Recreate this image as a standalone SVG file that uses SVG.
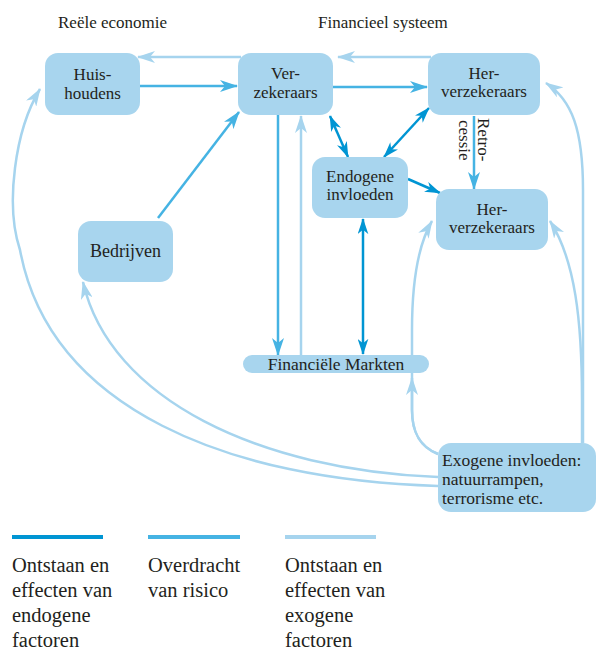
<svg xmlns="http://www.w3.org/2000/svg" width="597" height="651" viewBox="0 0 597 651">
<style>
text{font-family:"Liberation Serif","DejaVu Serif",serif;fill:#231f20}
.t{font-size:17px;text-anchor:middle}
.h{font-size:17px}
.ex{font-size:17.5px}
.lg{font-size:20.5px}
.box{fill:#a8d5ee}
.lt{fill:none;stroke:#a6d4ee;stroke-width:2.5}
.md{fill:none;stroke:#45b3e3;stroke-width:2.5}
.dk{fill:none;stroke:#0095d3;stroke-width:2.5}
</style>
<defs>
<marker id="aL" viewBox="0 0 18 12" markerWidth="18" markerHeight="12" refX="17" refY="6" orient="auto-start-reverse" markerUnits="userSpaceOnUse"><path d="M0,0 L18,6 L0,12 L5,6 z" fill="#a6d4ee"/></marker>
<marker id="aM" viewBox="0 0 18 12" markerWidth="18" markerHeight="12" refX="17" refY="6" orient="auto-start-reverse" markerUnits="userSpaceOnUse"><path d="M0,0 L18,6 L0,12 L5,6 z" fill="#45b3e3"/></marker>
<marker id="aD" viewBox="0 0 18 12" markerWidth="16" markerHeight="11" refX="17" refY="6" orient="auto-start-reverse" markerUnits="userSpaceOnUse"><path d="M0,0 L18,6 L0,12 L5,6 z" fill="#0095d3"/></marker>
</defs>
<text class="h" x="58" y="28">Reële economie</text>
<text class="h" x="318" y="28">Financieel systeem</text>
<g id="connectors">
<path class="lt" d="M431 57 L338 57" marker-end="url(#aL)"/>
<path class="lt" d="M241 57 L138 57" marker-end="url(#aL)"/>
<path class="lt" d="M301 355 L301 116" marker-end="url(#aL)"/>
<path class="lt" d="M438 486 C230 480 50 410 20 250 C5 205 15 130 40 89" marker-end="url(#aL)"/>
<path class="lt" d="M438 477 C260 470 110 400 83 282" marker-end="url(#aL)"/>
<path class="lt" d="M438 454 C418 446 412 430 412 410 L412 378" marker-end="url(#aL)"/>
<path class="lt" d="M438 454 C418 446 412 430 412 410 L412 330 C412 280 418 245 432 221" marker-end="url(#aL)"/>
<path class="lt" d="M583 443 L583 190 C583 130 572 100 546 83" marker-end="url(#aL)"/>
<path class="lt" d="M582 443 L582 400 C582 320 575 260 550 221" marker-end="url(#aL)"/>
<path class="md" d="M140 86 L237 86" marker-end="url(#aM)"/>
<path class="md" d="M333 87 L427 87" marker-end="url(#aM)"/>
<path class="md" d="M158 218 L239 112" marker-end="url(#aM)"/>
<path class="md" d="M278 115 L278 355" marker-end="url(#aM)"/>
<path class="md" d="M474 116 L474 189" marker-end="url(#aM)"/>
<path class="dk" d="M330 116 L348 157" marker-start="url(#aD)" marker-end="url(#aD)"/>
<path class="dk" d="M429 108 L384 157" marker-start="url(#aD)" marker-end="url(#aD)"/>
<path class="dk" d="M408 179 L440 193" marker-end="url(#aD)"/>
<path class="dk" d="M363 219 L363 354" marker-start="url(#aD)" marker-end="url(#aD)"/>
<text style="font-size:17px" transform="translate(478 118) rotate(90)">Retro-</text>
<text style="font-size:17px" transform="translate(459 120) rotate(90)">cessie</text>
</g>
<g id="huishoudens"><rect class="box" x="45" y="53" width="95" height="62" rx="13"/><text class="t" x="92.5" y="80">Huis-</text><text class="t" x="92.5" y="99">houdens</text></g>
<g id="verzekeraars"><rect class="box" x="238" y="53" width="95" height="62" rx="13"/><text class="t" x="285.5" y="79">Ver-</text><text class="t" x="285.5" y="98">zekeraars</text></g>
<g id="herverzekeraars1"><rect class="box" x="428" y="53" width="112" height="62" rx="13"/><text class="t" x="484" y="79">Her-</text><text class="t" x="484" y="97">verzekeraars</text></g>
<g id="endogene"><rect class="box" x="312" y="157" width="96" height="61" rx="13"/><text class="t" x="360" y="182">Endogene</text><text class="t" x="360" y="200">invloeden</text></g>
<g id="herverzekeraars2"><rect class="box" x="436" y="189" width="112" height="61" rx="13"/><text class="t" x="492" y="215">Her-</text><text class="t" x="492" y="233">verzekeraars</text></g>
<g id="bedrijven"><rect class="box" x="78" y="221" width="95" height="61" rx="13"/><text class="t" style="font-size:18px" x="125.5" y="257">Bedrijven</text></g>
<g id="markten"><rect class="box" x="243" y="355" width="186" height="18" rx="9"/><text class="t" style="font-size:17.5px" x="336" y="370">Financiële Markten</text></g>
<g id="exogene"><rect class="box" x="438" y="443" width="158" height="69" rx="13"/><text class="ex" x="442" y="466">Exogene invloeden:</text><text class="ex" x="442" y="485">natuurrampen,</text><text class="ex" x="442" y="504">terrorisme etc.</text></g>
<g id="legend">
<line x1="12" y1="537" x2="103" y2="537" stroke="#0095d3" stroke-width="4"/>
<line x1="148" y1="537" x2="240" y2="537" stroke="#45b3e3" stroke-width="4"/>
<line x1="285" y1="537" x2="376" y2="537" stroke="#a6d4ee" stroke-width="4"/>
<text class="lg" x="12" y="572">Ontstaan en</text><text class="lg" x="12" y="597">effecten van</text><text class="lg" x="12" y="622">endogene</text><text class="lg" x="12" y="647">factoren</text>
<text class="lg" x="148" y="572">Overdracht</text><text class="lg" x="148" y="597">van risico</text>
<text class="lg" x="285" y="572">Ontstaan en</text><text class="lg" x="285" y="597">effecten van</text><text class="lg" x="285" y="622">exogene</text><text class="lg" x="285" y="647">factoren</text>
</g>
</svg>
